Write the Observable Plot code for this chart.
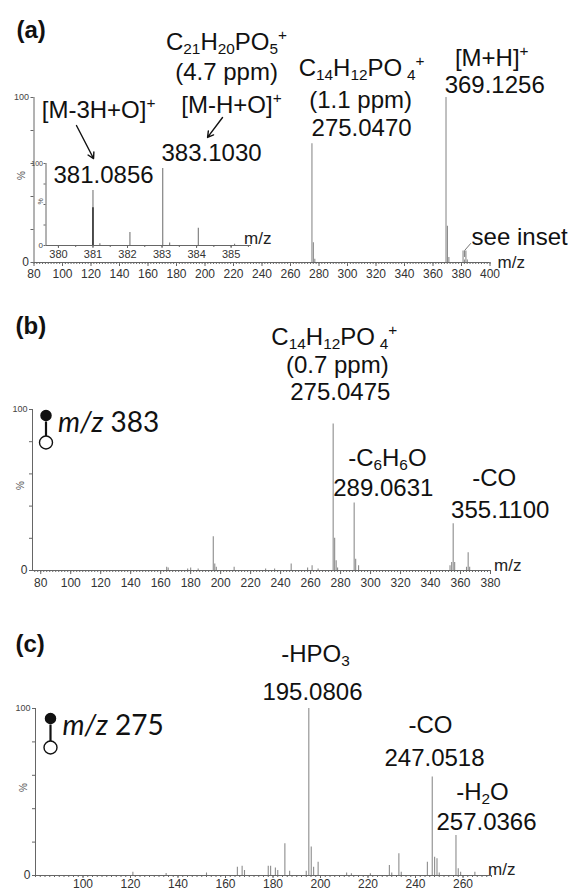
<!DOCTYPE html>
<html><head><meta charset="utf-8">
<script src="https://cdn.jsdelivr.net/npm/d3@7"></script>
<script src="https://cdn.jsdelivr.net/npm/@observablehq/plot@0.6"></script>
<style>
body{margin:0;background:#fff;}
.panel{position:relative;width:568px;}
.panel svg{display:block;}
.overlay{position:absolute;left:0;top:0;}
</style></head><body><div id="chart"></div>
<script>
// ---------- data ----------
// (a) full scan spectrum
const aMz  = [275.05, 276.05, 277.05, 369.13, 370.13, 371.13, 381.09, 382.1, 383.10, 384.1];
const aInt = [72, 12, 2, 100, 22, 3, 7, 1.5, 7, 1.5];
// (a) inset 380–385
const insetMz  = [381.0, 381.2, 382.07, 383.02, 383.22, 384.05, 385.1];
const insetInt = [67, 2, 16, 94, 3, 21, 1.5];
const insetCoreMz = [381.0];
const insetCoreInt = [46];
// (b) MS/MS of m/z 383
const bMz  = [164, 165, 178, 180, 185, 195.08, 196.08, 197.1, 209, 230, 236, 247.05, 258, 261, 265, 275.05, 276.05, 277.05, 278, 289.06, 290.07, 292, 353, 354.1, 355.11, 356.1, 364, 365.1, 366.1];
const bInt = [2, 1.5, 1, 1.5, 1, 21, 4, 2, 2, 1, 1, 4, 1.5, 3, 1, 91, 20, 6, 1.5, 42, 7, 3, 3, 5, 29, 5, 2, 11, 2];
// (c) MS/MS of m/z 275
const cMz  = [121, 135, 152, 165, 167, 168, 178, 179, 181, 182, 185, 187, 194, 195.08, 196.1, 197.1, 199, 211, 213, 221, 229, 230, 233, 234, 245, 247.05, 248.05, 249.05, 250, 257.04, 258, 259, 265];
const cInt = [2, 1.2, 1.5, 5, 5.5, 3, 5.5, 5.5, 4.5, 3, 19, 2.5, 2.5, 100, 17, 5, 8, 1.5, 1, 1, 6, 1.5, 13, 2, 8, 59, 11, 10, 1.5, 24, 4, 2, 2];

// tick labels
const aTicks = d3.range(80, 401, 20);
const insetTicks = [380, 381, 382, 383, 384, 385];
const bTicks = d3.range(80, 381, 20);
const cTicks = d3.range(100, 261, 20);

// annotations (data units: m/z, % relative abundance)
const labelsA = [
  {x: 215.1, y: 133.5, text: "C_{21}H_{20}PO_{5}^{+}"},
  {x: 215.1, y: 115.4, text: "(4.7 ppm)"},
  {x: 218.6, y: 95.2,  text: "[M-H+O]^{+}"},
  {x: 204.6, y: 66.1,  text: "383.1030"},
  {x: 125.3, y: 92.1,  text: "[M-3H+O]^{+}"},
  {x: 128.8, y: 52.7,  text: "381.0856"},
  {x: 309.9, y: 117.4, text: "C_{14}H_{12}PO\u2009_{4}^{+}"},
  {x: 309.2, y: 98.2,  text: "(1.1 ppm)"},
  {x: 309.9, y: 81.2,  text: "275.0470"},
  {x: 401.2, y: 123.6, text: "[M+H]^{+}"},
  {x: 403.3, y: 107.3, text: "369.1256"},
  {x: 420.8, y: 15.2,  text: "see inset"}
];
const arrowsA = [
  {x1: 109.8, y1: 83.0, x2: 121.8, y2: 63.0},
  {x1: 212.3, y1: 87.9, x2: 201.8, y2: 75.8}
];
const leaderA = [[386.4, 11.5], [382.2, 7.3], [382.2, 3.6]];
const labelsB = [
  {x: 275.8, y: 144.6, text: "C_{14}H_{12}PO\u2009_{4}^{+}"},
  {x: 277.8, y: 127.3, text: "(0.7 ppm)"},
  {x: 279.8, y: 110.6, text: "275.0475"},
  {x: 311.2, y: 69.6,  text: "-C_{6}H_{6}O"},
  {x: 308.5, y: 50.9,  text: "289.0631"},
  {x: 382.5, y: 57.1,  text: "-CO"},
  {x: 386.5, y: 37.3,  text: "355.1100"}
];
const labelsC = [
  {x: 197.9, y: 132.7, text: "-HPO_{3}"},
  {x: 196.6, y: 109.5, text: "195.0806"},
  {x: 246.3, y: 89.9,  text: "-CO"},
  {x: 248.0, y: 70.2,  text: "247.0518"},
  {x: 268.2, y: 50.0,  text: "-H_{2}O"},
  {x: 269.9, y: 32.1,  text: "257.0366"}
];

// ---------- helpers ----------
const NS = "http://www.w3.org/2000/svg";
const FONT = "'Liberation Sans', Arial, sans-serif";
const AX = "#666";
const PEAK = "#8c8c8c";
const toRows = (mz, it) => mz.map((m, i) => ({mz: m, i: it[i]}));

function richText(svg) {
  svg.querySelectorAll("text").forEach(t => {
    const spans = t.querySelectorAll("tspan");
    const targets = spans.length ? [...spans] : [t];
    targets.forEach(node => {
      const s = node.textContent;
      if (!/[_^*]/.test(s)) return;
      while (node.firstChild) node.removeChild(node.firstChild);
      const re = /([_^])\{([^}]*)\}|\*([^*]*)\*|([^_^*]+)/g;
      let m;
      while ((m = re.exec(s)) !== null) {
        const sp = document.createElementNS(NS, "tspan");
        if (m[1]) {
          sp.textContent = m[2];
          sp.style.fontSize = "64%";
          sp.setAttribute("baseline-shift", m[1] === "_" ? "-0.24em" : "0.62em");
        } else if (m[3] !== undefined) {
          sp.textContent = m[3];
          sp.style.fontStyle = "italic";
        } else {
          sp.textContent = m[4];
        }
        node.appendChild(sp);
      }
    });
  });
  return svg;
}

const fmt = d => String(d);
function axes(xDomain, major, minor, mzDx, mzDy, tickSize, tickPad) {
  return [
    Plot.ruleY([0], {stroke: AX}),
    Plot.ruleX([xDomain[0]], {y1: 0, y2: 100, stroke: AX}),
    Plot.axisX({ticks: minor, tickSize: 2, tickFormat: () => "", label: null, stroke: AX}),
    Plot.axisX({ticks: major, tickSize, tickPadding: tickPad, tickFormat: fmt, fontSize: 12, label: null, stroke: AX, fill: "#333"}),
    Plot.axisY({ticks: [0, 20, 40, 60, 80, 100], tickSize: 3, tickFormat: () => "", label: null, stroke: AX}),
    Plot.axisY({ticks: [100], tickSize: 0, tickPadding: 5, tickFormat: fmt, fontSize: 9, label: null, fill: "#444"}),
    Plot.axisY({ticks: [0], tickSize: 0, tickPadding: 5, tickFormat: fmt, fontSize: 12, label: null, fill: "#333"}),
    Plot.text(["%"], {frameAnchor: "left", dx: -12, rotate: -90, fontSize: 10, fill: "#555", fontFamily: FONT}),
    Plot.text(["m/z"], {frameAnchor: "bottom-right", dx: mzDx, dy: mzDy, fontSize: 17, fill: "#222", fontFamily: FONT})
  ];
}

const stemSymbol = (len) => ({draw(ctx) { ctx.moveTo(0, -len / 2); ctx.lineTo(0, len / 2); }});
function precursor(label, dx, dy, len) {
  return [
    Plot.dot([0], {frameAnchor: "top-left", dx: dx, dy: dy + 6 + len / 2, symbol: stemSymbol(len), r: 3, stroke: "#111", strokeWidth: 2.2}),
    Plot.dot([0], {frameAnchor: "top-left", dx: dx, dy: dy, r: 5, fill: "#111", stroke: "#111"}),
    Plot.dot([0], {frameAnchor: "top-left", dx: dx, dy: dy + 12 + len, r: 6.5, fill: "white", stroke: "#111", strokeWidth: 1.4}),
    Plot.text([label], {frameAnchor: "top-left", dx: dx + 12, dy: dy - 3, textAnchor: "start", fontSize: 28, fontFamily: "Lato, 'Open Sans', sans-serif", fill: "#111"})
  ];
}

const labelMark = (data) => Plot.text(data, {x: "x", y: "y", text: "text", fontSize: 24, fontFamily: FONT, fill: "#111"});
const panelLabel = (t, dx, dy) => Plot.text([t], {frameAnchor: "top-left", dx, dy, textAnchor: "start", fontSize: 24, fontWeight: "bold", fontFamily: FONT, fill: "#111"});

const baseStyle = {fontFamily: FONT, fontSize: "12px", background: "transparent", overflow: "visible"};
const chart = document.getElementById("chart");

// ---------- panel (a) ----------
{
  const div = document.createElement("div");
  div.className = "panel";
  const xDomain = [80, 400];
  const main = Plot.plot({
    width: 568, height: 290,
    marginTop: 97, marginBottom: 28, marginLeft: 33.5, marginRight: 78.5,
    style: baseStyle,
    x: {domain: xDomain},
    y: {domain: [0, 100]},
    marks: [
      ...axes(xDomain, aTicks, d3.range(80, 401, 2), 35, 5, 4, 3),
      Plot.ruleX(toRows(aMz, aInt), {x: "mz", y1: 0, y2: "i", stroke: PEAK, strokeWidth: 1.1}),
      Plot.line(leaderA, {stroke: "#777", strokeWidth: 1}),
      Plot.arrow(arrowsA, {x1: "x1", y1: "y1", x2: "x2", y2: "y2", stroke: "#111", strokeWidth: 1.4, headLength: 7}),
      labelMark(labelsA),
      panelLabel("(a)", -17.5, -77)
    ]
  });
  div.appendChild(richText(main));
  const insetDomain = [379.64, 385.59];
  const inset = Plot.plot({
    width: 300, height: 290,
    marginTop: 163, marginBottom: 45, marginLeft: 45.5, marginRight: 49,
    style: baseStyle,
    x: {domain: insetDomain},
    y: {domain: [0, 100]},
    marks: [
      Plot.ruleY([0], {stroke: AX}),
      Plot.ruleX([insetDomain[0]], {y1: 0, y2: 100, stroke: AX}),
      Plot.axisX({ticks: d3.range(380, 385.6, 0.5), tickSize: 2, tickFormat: () => "", label: null, stroke: AX}),
      Plot.axisX({ticks: insetTicks, tickSize: 3, tickPadding: 2, tickFormat: fmt, fontSize: 11, label: null, stroke: AX, fill: "#333"}),
      Plot.axisY({ticks: [0, 25, 50, 75, 100], tickSize: 2, tickFormat: () => "", label: null, stroke: AX}),
      Plot.axisY({ticks: [100], tickSize: 0, tickPadding: 3, tickFormat: fmt, fontSize: 7, label: null, fill: "#444"}),
      Plot.axisY({ticks: [0], tickSize: 0, tickPadding: 3, tickFormat: fmt, fontSize: 8, label: null, fill: "#444"}),
      Plot.text(["%"], {frameAnchor: "left", dx: -5, rotate: -90, fontSize: 7, fill: "#555", fontFamily: FONT}),
      Plot.text(["m/z"], {frameAnchor: "bottom-right", dx: 20, dy: -2, fontSize: 17, fill: "#222", fontFamily: FONT}),
      Plot.ruleX(toRows(insetMz, insetInt), {x: "mz", y1: 0, y2: "i", stroke: "#777", strokeWidth: 1.1}),
      Plot.ruleX(toRows(insetCoreMz, insetCoreInt), {x: "mz", y1: 0, y2: "i", stroke: "#222", strokeWidth: 1.4})
    ]
  });
  inset.classList.add("overlay");
  div.appendChild(inset);
  chart.appendChild(div);
}

// ---------- panel (b) ----------
{
  const div = document.createElement("div");
  div.className = "panel";
  const xDomain = [74.5, 380];
  const svg = Plot.plot({
    width: 568, height: 310,
    marginTop: 119, marginBottom: 30, marginLeft: 32, marginRight: 78,
    style: baseStyle,
    x: {domain: xDomain},
    y: {domain: [0, 100]},
    marks: [
      ...axes(xDomain, bTicks, d3.range(76, 381, 2), 31, 0, 4, 4),
      Plot.ruleX(toRows(bMz, bInt), {x: "mz", y1: 0, y2: "i", stroke: PEAK, strokeWidth: 1.1}),
      labelMark(labelsB),
      ...precursor("*m/z* 383", 13.5, 6, 15),
      panelLabel("(b)", -17, -93)
    ]
  });
  div.appendChild(richText(svg));
  chart.appendChild(div);
}

// ---------- panel (c) ----------
{
  const div = document.createElement("div");
  div.className = "panel";
  const xDomain = [80, 272];
  const svg = Plot.plot({
    width: 568, height: 290,
    marginTop: 108, marginBottom: 15, marginLeft: 35, marginRight: 77,
    style: baseStyle,
    x: {domain: xDomain},
    y: {domain: [0, 100]},
    marks: [
      ...axes(xDomain, cTicks, d3.range(80, 273, 2), 24, -1, 3, 0.5),
      Plot.ruleX(toRows(cMz, cInt), {x: "mz", y1: 0, y2: "i", stroke: PEAK, strokeWidth: 1.1}),
      labelMark(labelsC),
      ...precursor("*m/z* 275", 15, 10, 17),
      panelLabel("(c)", -20, -74)
    ]
  });
  div.appendChild(richText(svg));
  chart.appendChild(div);
}
</script></body></html>
